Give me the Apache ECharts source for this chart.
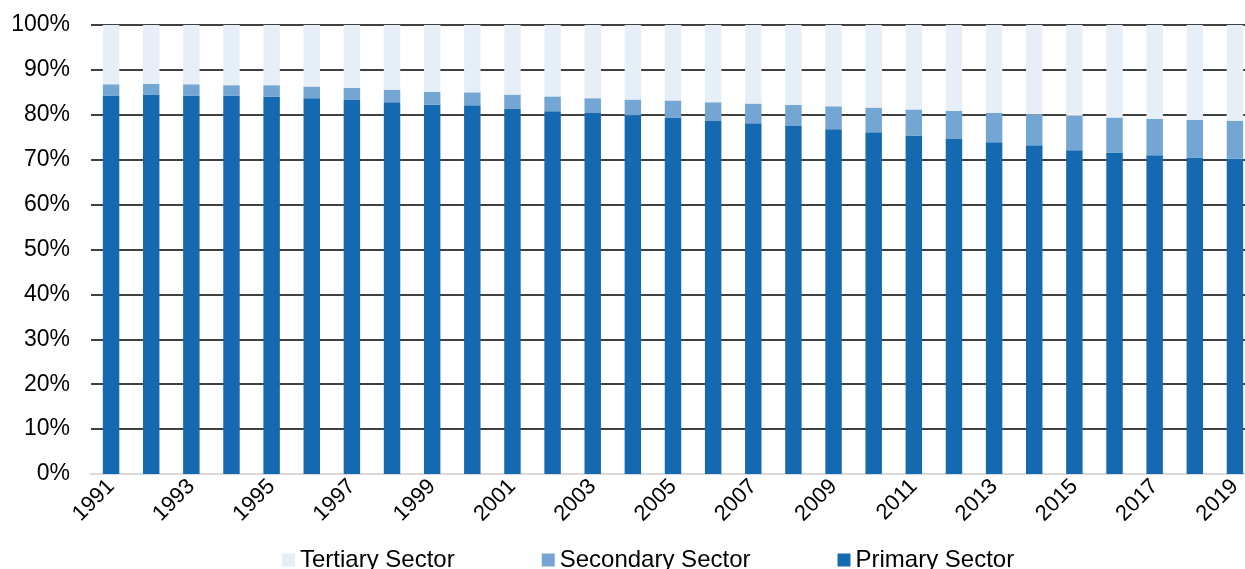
<!DOCTYPE html>
<html>
<head>
<meta charset="utf-8">
<title>Sector shares</title>
<script src="https://cdn.jsdelivr.net/npm/echarts@6/dist/echarts.min.js"></script>
<style>
  html, body { margin: 0; padding: 0; background: #fff; }
  #chart { width: 1245px; height: 569px; }
</style>
</head>
<body>
<div id="chart"></div>
<script>
// years on the x axis
var years = [
  "1991", "1992", "1993", "1994", "1995", "1996", "1997", "1998", "1999", "2000",
  "2001", "2002", "2003", "2004", "2005", "2006", "2007", "2008", "2009", "2010",
  "2011", "2012", "2013", "2014", "2015", "2016", "2017", "2018", "2019"
];

// shares in %
var primary = [
  84.3, 84.5, 84.3, 84.3, 84.0, 83.7, 83.3, 82.8, 82.3, 82.1,
  81.3, 80.8, 80.4, 79.9, 79.3, 78.6, 78.1, 77.5, 76.8, 76.1,
  75.4, 74.6, 73.9, 73.2, 72.1, 71.6, 71.0, 70.5, 70.2
];
var secondary = [
  2.5, 2.4, 2.5, 2.3, 2.6, 2.6, 2.7, 2.8, 2.8, 2.9,
  3.2, 3.3, 3.3, 3.5, 3.9, 4.2, 4.4, 4.7, 5.1, 5.5,
  5.8, 6.3, 6.5, 6.9, 7.7, 7.8, 8.1, 8.4, 8.5
];
var tertiary = [
  13.2, 13.1, 13.2, 13.4, 13.4, 13.7, 14.0, 14.4, 14.9, 15.0,
  15.5, 15.9, 16.3, 16.6, 16.8, 17.2, 17.5, 17.8, 18.1, 18.4,
  18.8, 19.1, 19.6, 19.9, 20.2, 20.6, 20.9, 21.1, 21.3
];

var yTicks = [0, 10, 20, 30, 40, 50, 60, 70, 80, 90, 100];

var font = "'Liberation Sans', Arial, sans-serif";
var myChart = echarts.init(document.getElementById("chart"));

myChart.setOption({
  animation: false,
  backgroundColor: "#fff",
  textStyle: { fontFamily: font },
  grid: {
    left: 91,
    right: -10,
    top: 25,
    bottom: 95,
    containLabel: false,
    outerBoundsMode: "none"
  },
  legend: {
    data: ["Tertiary Sector", "Secondary Sector", "Primary Sector"],
    left: 277,
    top: 543,
    itemWidth: 13,
    itemHeight: 13,
    itemGap: 87,
    icon: "rect",
    textStyle: { fontSize: 24, color: "#000", fontFamily: font }
  },
  xAxis: {
    type: "category",
    data: years,
    axisLine: { show: true, lineStyle: { color: "#d9d9d9", width: 2 } },
    axisTick: { show: false },
    axisLabel: {
      interval: 1,
      rotate: 45,
      fontSize: 22,
      color: "#000",
      margin: 9
    }
  },
  yAxis: {
    type: "value",
    min: yTicks[0],
    max: yTicks[yTicks.length - 1],
    interval: 10,
    axisLine: { show: false },
    axisTick: { show: false },
    splitLine: { lineStyle: { color: "#000", width: 1.5 } },
    axisLabel: {
      fontSize: 23,
      color: "#000",
      margin: 21,
      formatter: "{value}%"
    }
  },
  series: [
    {
      name: "Primary Sector",
      type: "bar",
      stack: "total",
      barWidth: "41%",
      itemStyle: { color: "#1569b0" },
      data: primary
    },
    {
      name: "Secondary Sector",
      type: "bar",
      stack: "total",
      barWidth: "41%",
      itemStyle: { color: "#73a6d2" },
      data: secondary
    },
    {
      name: "Tertiary Sector",
      type: "bar",
      stack: "total",
      barWidth: "41%",
      itemStyle: { color: "#e6eef7" },
      data: tertiary
    }
  ]
});
</script>
</body>
</html>
